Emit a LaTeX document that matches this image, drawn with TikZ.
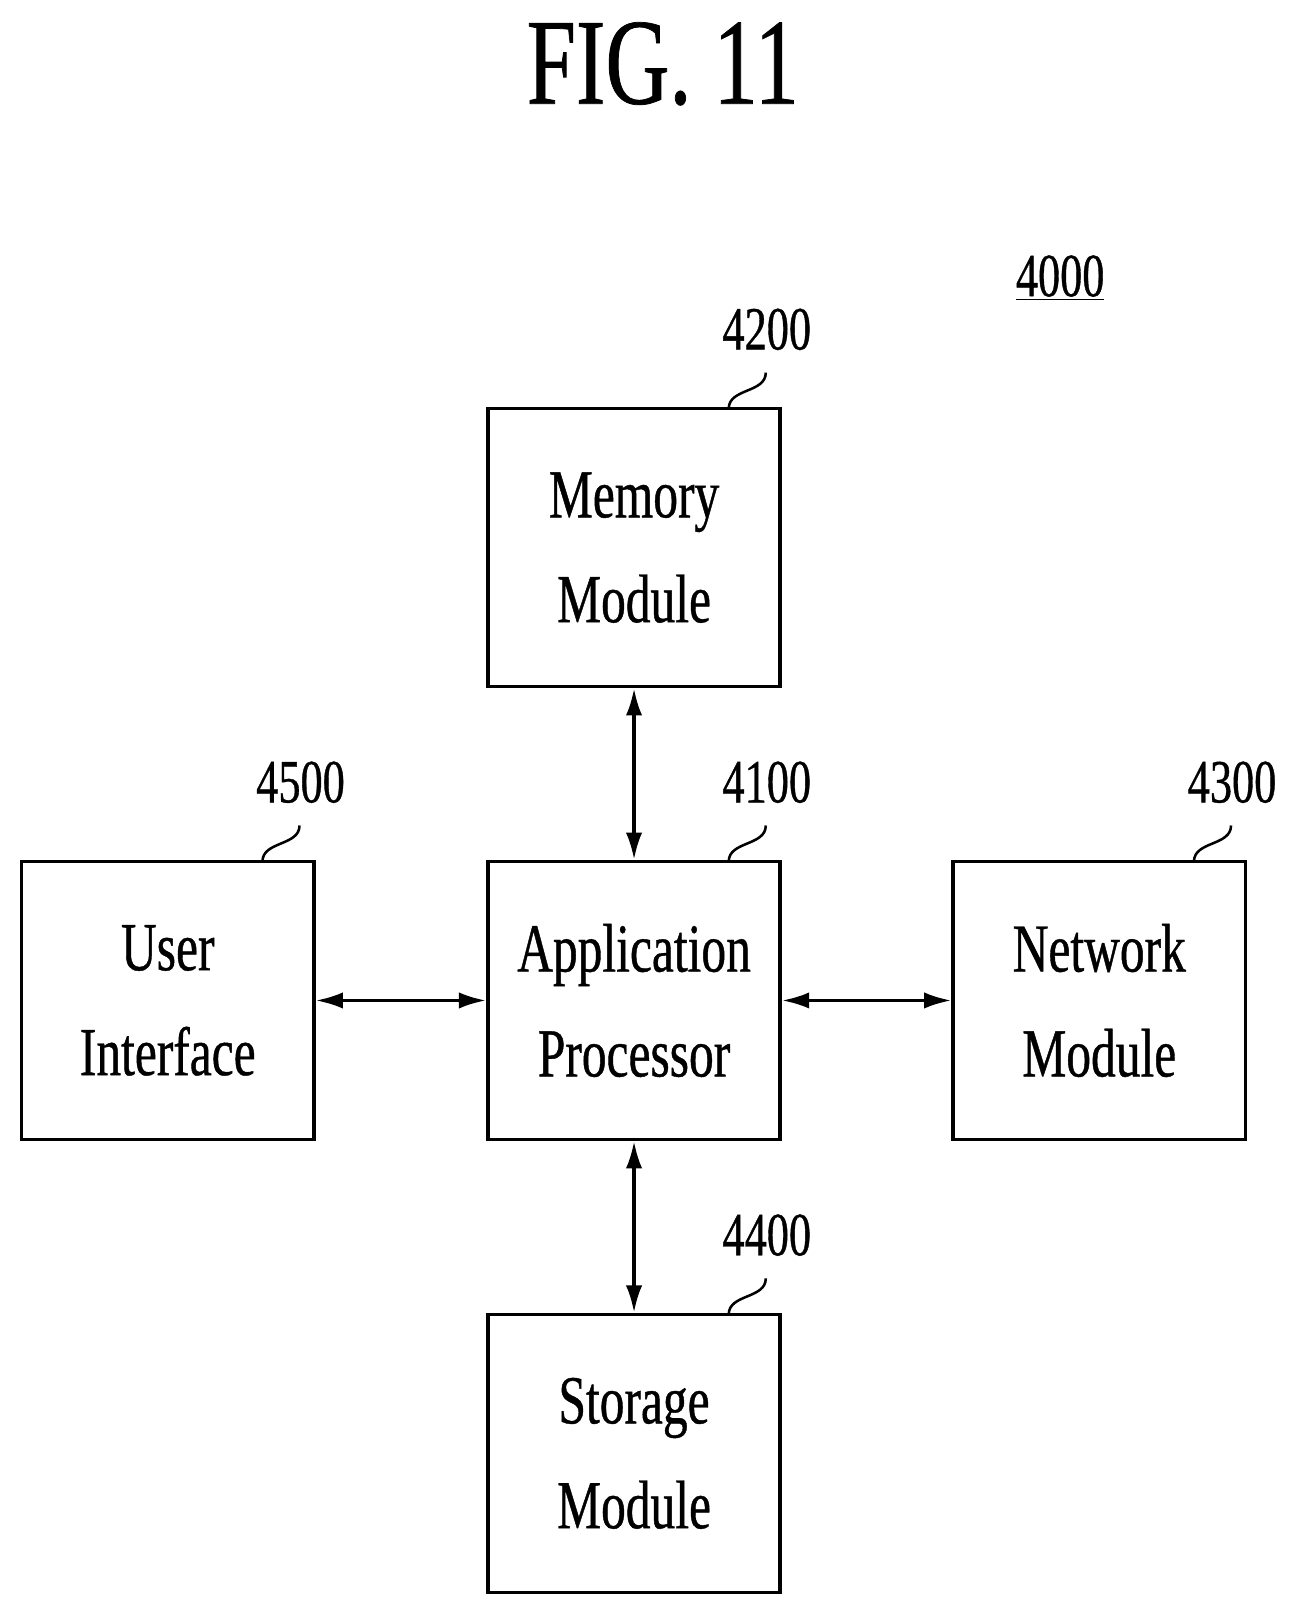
\documentclass[tikz,border=0pt]{standalone}
\usepackage{fontspec}
\setmainfont{Liberation Serif}[FakeStretch=0.72,FakeBold=0.6]
\begin{document}
\begin{tikzpicture}[x=0.02cm,y=-0.02cm,
 box/.style={draw,line width=2pt,minimum width=284*0.02cm,minimum height=270*0.02cm,inner sep=0pt,align=center,font=\fontsize{38}{58}\selectfont},
 num/.style={font=\fontsize{34}{36}\selectfont,inner sep=0pt},
 lead/.style={line width=1.4pt},
 arr/.style={line width=1.8pt,<->,>={Latex[length=15pt,width=9pt]}}]
\usetikzlibrary{arrows.meta}
\useasboundingbox (0,0) rectangle (1265,1571);
\node[font=\fontsize{68}{70}\selectfont] (t) at (644,62) {FIG. 11};
\node[num] (n4000) at (1030,270) {\underline{4000}};
\node[box] (mem) at (616,532) {Memory\\Module};
\node[box] (ap) at (616,972) {Application\\Processor};
\node[box] (ui) at (163,972) {User\\Interface};
\node[box] (net) at (1068,972) {Network\\Module};
\node[box] (sto) at (616,1412) {Storage\\Module};
\node[num] (n4200) at (745,320) {4200};
\node[num] (n4100) at (745,760) {4100};
\node[num] (n4500) at (292,760) {4500};
\node[num] (n4300) at (1197,760) {4300};
\node[num] (n4400) at (745,1200) {4400};
\foreach \b/\n/\x/\y in {mem/n4200/708/397,ap/n4100/708/837,ui/n4500/255/837,net/n4300/1160/837,sto/n4400/708/1277}{
 \draw[lead] (\x,\y) .. controls (\x,\y-20) and (\x+36,\y-15) .. (\x+36,\y-35);
}
\draw[arr] (mem.south) -- (ap.north);
\draw[arr] (ap.south) -- (sto.north);
\draw[arr] (ui.east) -- (ap.west);
\draw[arr] (ap.east) -- (net.west);
\end{tikzpicture}
\end{document}
